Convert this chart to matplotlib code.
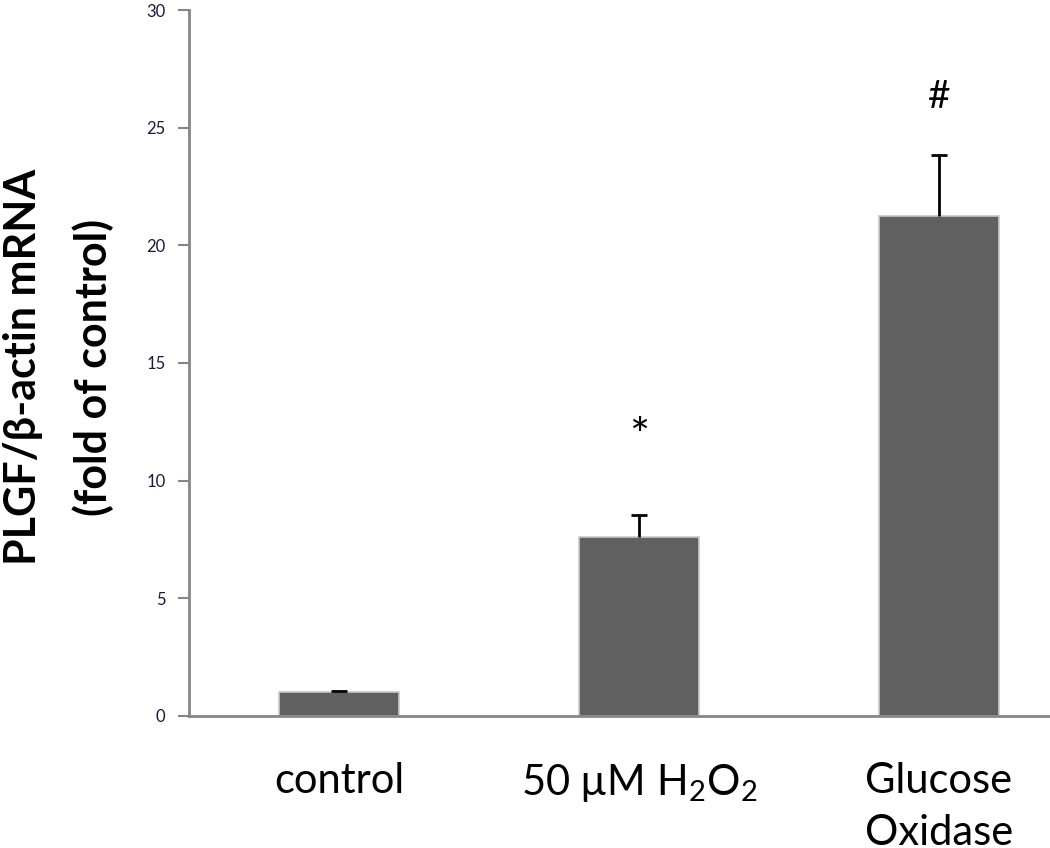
import matplotlib
matplotlib.use('Agg')
import matplotlib.pyplot as plt

# donnees
categories = ['control', '50 µM H$_\\mathregular{2}$O$_\\mathregular{2}$', 'Glucose\nOxidase']
values = [1.0, 7.6, 21.25]
errors = [0.08, 0.95, 2.6]
marks = ['', '*', '#']
mark_y = [0, 11.8, 26.3]
mark_size = [0, 34, 28]

plt.rcParams['font.family'] = ['Lato', 'DejaVu Sans']
plt.rcParams['mathtext.fontset'] = 'custom'
plt.rcParams['mathtext.rm'] = 'Lato'
plt.rcParams['mathtext.it'] = 'Lato:italic'

fig = plt.figure(figsize=(10.5, 8.48), dpi=100)
ax = fig.add_axes([0.18, 0.1557, 0.82, 0.8325])

x = range(len(categories))
ax.bar(x, values, width=0.4, color='#606060', edgecolor='#c8c8c8', linewidth=1.2, zorder=2)
# barres d'erreur vers le haut seulement
eb = ax.errorbar(x, values, yerr=[[0]*len(errors), errors], fmt='none', ecolor='black',
                 elinewidth=2, capsize=6, capthick=2, zorder=3)
eb[1][0].set_visible(False)

for xi, m, my, ms in zip(x, marks, mark_y, mark_size):
    if m:
        ax.text(xi, my, m, ha='center', va='center', fontsize=ms, color='black')

ax.set_xlim(-0.5, 2.37)
ax.set_ylim(0, 30)
ax.set_yticks(range(0, 31, 5))
ax.set_xticks(list(x))
ax.set_xticklabels(categories, fontsize=30, linespacing=1.45, va='top')
ax.tick_params(axis='x', length=0, pad=33)
ax.tick_params(axis='y', length=8, width=1.5, color='#868686', labelsize=12,
               labelcolor='#1a1a40', pad=9, direction='out')

for s in ['top', 'right']:
    ax.spines[s].set_visible(False)
ax.spines['left'].set_color('#868686')
ax.spines['left'].set_linewidth(2)
ax.spines['bottom'].set_color('#868686')
ax.spines['bottom'].set_linewidth(2)

fig.text(59 / 1050, 1 - 367 / 848, 'PLGF/β-actin mRNA\n(fold of control)', rotation=90,
         ha='center', va='center', fontsize=31, fontweight='bold', linespacing=1.85,
         multialignment='center')

fig.savefig('out.png', dpi=100)
